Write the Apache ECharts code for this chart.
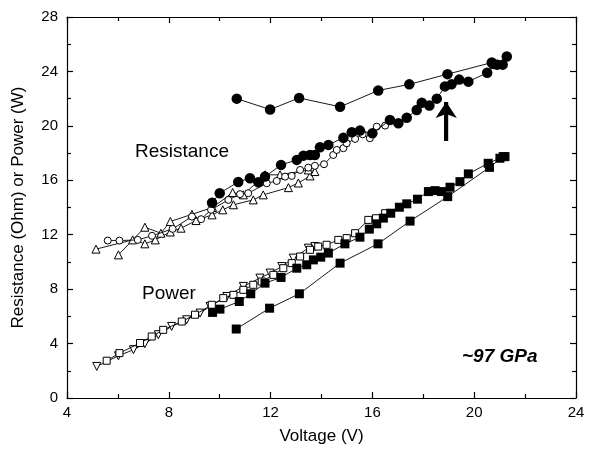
<!DOCTYPE html>
<html>
<head>
<meta charset="utf-8">
<script src="https://cdn.jsdelivr.net/npm/echarts@6/dist/echarts.min.js"></script>
<style>html,body{margin:0;padding:0;background:#fff}#c{width:595px;height:454px}</style>
</head>
<body>
<div id="c"></div>
<script>
// Resistance, filled circles (upper sweep)
const resFilledUpper = [[10.67,22.0],[11.98,21.2],[13.12,22.05],[14.73,21.4],[16.23,22.6],[17.45,23.05],[18.95,23.8],[20.69,24.65],[20.9,24.5],[21.12,24.5],[21.28,25.1]];
// Resistance, filled circles (rising)
const resFilled = [[9.7,14.35],[10.0,15.05],[10.73,15.88],[11.19,16.15],[11.52,15.86],[11.78,16.27],[12.41,17.13],[13.03,17.5],[13.29,17.81],[13.55,17.86],[13.74,17.86],[13.94,18.43],[14.27,18.6],[14.86,19.13],[15.19,19.53],[15.51,19.65],[16.0,19.45],[16.69,20.43],[17.02,20.19],[17.35,20.6],[17.74,21.17],[17.94,21.7],[18.24,21.5],[18.53,22.0],[18.85,22.9],[19.11,23.05],[19.41,23.4],[19.77,23.25],[20.51,23.9],[20.75,24.55]];
// Resistance, open circles
const resOpenCircle = [[5.6,11.57],[6.06,11.57],[6.78,11.62],[7.34,11.92],[8.15,12.43],[8.91,13.33],[9.27,13.14],[9.66,13.83],[10.34,14.56],[10.8,14.98],[11.12,15.05],[11.85,15.78],[12.24,15.95],[12.57,16.27],[12.83,16.32],[13.16,16.76],[13.48,16.93],[13.74,17.06],[14.1,17.18],[14.46,17.86],[14.6,18.23],[14.86,18.36],[14.99,18.72],[15.32,19.04],[15.62,19.38],[15.9,19.09],[16.17,19.94],[16.5,20.02]];
// Resistance, open triangles (two runs)
const resTriA = [[5.14,10.94],[6.58,11.62],[7.06,11.33],[7.47,11.62],[8.06,12.2],[8.48,12.48],[9.07,13.04],[9.7,13.46],[10.12,13.83],[10.54,14.2],[11.32,14.56],[11.71,14.93],[12.7,15.46],[13.09,15.8],[13.55,16.32]];
const resTriB = [[6.02,10.52],[7.06,12.55],[7.69,12.11],[8.06,12.97],[8.91,13.5],[9.72,14.0],[10.51,15.1],[10.93,14.93],[11.78,16.4],[12.37,16.4],[13.48,16.76],[13.74,16.64]];
// Power, filled squares (dense)
const powFilled = [[9.72,6.29],[10.01,6.53],[10.77,7.09],[11.22,7.66],[11.78,8.44],[12.41,8.86],[13.03,9.54],[13.42,9.79],[13.68,10.15],[13.97,10.35],[14.27,10.65],[14.92,11.33],[15.51,11.82],[15.88,12.41],[16.17,12.8],[16.43,13.22],[16.72,13.58],[17.06,14.02],[17.35,14.27],[17.77,14.61],[18.2,15.17],[18.46,15.24],[18.72,15.17],[19.05,15.49],[19.44,15.9],[19.77,16.47],[20.55,17.25],[21.01,17.62],[21.21,17.74]];
// Power, filled squares (sparse)
const powFilledSparse = [[10.65,5.07],[11.96,6.6],[13.13,7.66],[14.73,9.91],[16.22,11.33],[17.48,13.0],[18.96,14.8],[20.6,16.95],[21.14,17.74]];
// Power, open squares
const powOpenSquare = [[5.56,2.74],[6.06,3.3],[6.87,4.04],[7.33,4.52],[7.78,5.01],[8.51,5.62],[9.03,6.12],[9.69,6.85],[10.14,7.34],[10.54,7.58],[10.93,7.95],[11.32,8.32],[11.65,8.56],[12.11,9.05],[12.5,9.54],[12.83,9.91],[13.16,10.4],[13.55,10.89],[13.87,11.13],[14.2,11.26],[14.66,11.62],[14.99,11.75],[15.32,12.11],[15.84,13.09],[16.14,13.21],[16.5,13.58]];
// Power, open down-triangles
const powTriDown = [[5.17,2.32],[6.02,3.1],[6.61,3.55],[7.06,3.99],[7.59,4.65],[8.11,5.26],[8.7,5.75],[9.23,6.24],[9.62,6.73],[10.28,7.46],[10.93,8.2],[11.58,8.81],[11.98,9.18],[12.44,9.66],[12.89,10.28],[13.48,11.01],[13.74,11.13]];
const arrowLine = [[18.9,18.9],[18.9,21.75]];
const xTicks = [4, 24, 4];
const yTicks = [0, 28, 4];

const FONT = "'Liberation Sans', Arial, sans-serif";
const chart = echarts.init(document.getElementById('c'), null, {renderer: 'canvas'});

function ser(name, data, symbol, size, filled, z) {
  return {
    name, type: 'line', data, symbol, symbolSize: size,
    lineStyle: {color: '#000', width: 0.9},
    itemStyle: {color: filled ? '#000' : '#fff', borderColor: '#000', borderWidth: filled ? 0 : 1},
    showSymbol: true, animation: false, z: z || 2,
    emphasis: {disabled: true}
  };
}
const axisCommon = {
  type: 'value', splitLine: {show: false},
  axisLine: {show: true, onZero: false, lineStyle: {color: '#000', width: 1.2}},
  axisTick: {show: true, inside: true, length: 6, lineStyle: {color: '#000', width: 1.2}},
  minorTick: {show: true, splitNumber: 2, length: 4, lineStyle: {color: '#000', width: 1.2}},
  minorSplitLine: {show: false}
};
const triDown = 'path://M0,0 L10,0 L5,9 Z';

chart.setOption({
  backgroundColor: '#fff',
  animation: false,
  grid: {left: 67, right: 19, top: 17, bottom: 56},
  xAxis: [
    Object.assign({}, axisCommon, {min: xTicks[0], max: xTicks[1], interval: xTicks[2], position: 'bottom',
      name: 'Voltage (V)', nameLocation: 'middle', nameGap: 30,
      nameTextStyle: {fontFamily: FONT, fontSize: 17, color: '#000'},
      axisLabel: {fontFamily: FONT, fontSize: 15, color: '#000', margin: 7}}),
    Object.assign({}, axisCommon, {min: xTicks[0], max: xTicks[1], interval: xTicks[2], position: 'top',
      axisLabel: {show: false}})
  ],
  yAxis: [
    Object.assign({}, axisCommon, {min: yTicks[0], max: yTicks[1], interval: yTicks[2], position: 'left',
      name: 'Resistance (Ohm) or Power (W)', nameLocation: 'middle', nameGap: 40,
      nameTextStyle: {fontFamily: FONT, fontSize: 17, color: '#000'},
      axisLabel: {fontFamily: FONT, fontSize: 15, color: '#000', margin: 9}}),
    Object.assign({}, axisCommon, {min: yTicks[0], max: yTicks[1], interval: yTicks[2], position: 'right',
      axisLabel: {show: false}})
  ],
  series: [
    ser('R up', resFilledUpper, 'circle', 10.5, true, 5),
    ser('R filled', resFilled, 'circle', 10.5, true, 5),
    ser('R open', resOpenCircle, 'circle', 7, false, 4),
    ser('R triA', resTriA, 'triangle', 8, false, 3),
    ser('R triB', resTriB, 'triangle', 8, false, 3),
    ser('P filled', powFilled, 'rect', 9, true, 5),
    ser('P sparse', powFilledSparse, 'rect', 9, true, 5),
    ser('P open', powOpenSquare, 'rect', 7, false, 4),
    ser('P tri', powTriDown, triDown, 8, false, 3),
    {
      type: 'line', data: arrowLine, symbol: ['none', 'none'], showSymbol: false,
      lineStyle: {color: '#000', width: 4}, z: 6, animation: false,
      markLine: {
        silent: true, symbol: ['none', 'arrow'], symbolSize: [16, 16],
        lineStyle: {color: '#000', width: 4, type: 'solid'}, label: {show: false},
        data: [[{coord: arrowLine[0]}, {coord: arrowLine[1]}]]
      }
    }
  ],
  graphic: [
    {type: 'text', left: 135, top: 142, style: {text: 'Resistance', font: '19px ' + FONT, fill: '#000'}},
    {type: 'text', left: 142, top: 284, style: {text: 'Power', font: '19px ' + FONT, fill: '#000'}},
    {type: 'text', left: 462, top: 347, style: {text: '~97 GPa', font: 'italic bold 19px ' + FONT, fill: '#000'}}
  ]
});
</script>
</body>
</html>
